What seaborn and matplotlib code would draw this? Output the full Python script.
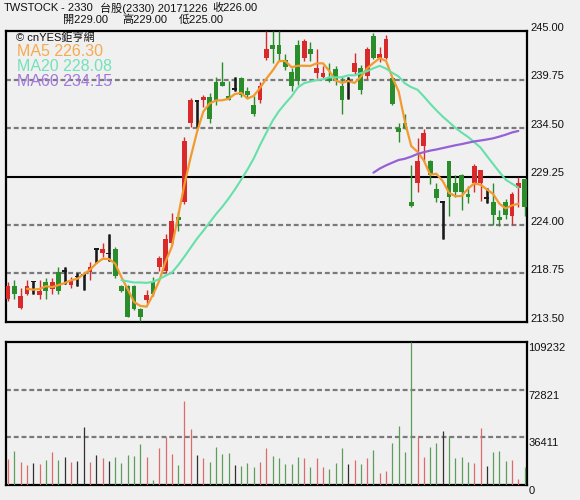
import numpy as np
import pandas as pd
import matplotlib
matplotlib.use("Agg")
import matplotlib.pyplot as plt
import matplotlib.transforms as mtransforms
import seaborn as sns

# daily OHLC + volume (83 trading days up to 2017-12-26)
opens = [216.0, 217.4, 215.0, 216.5, 217.9, 216.4, 217.8, 217.05, 218.9, 219.0,
         217.5, 218.4, 218.6, 218.9, 221.4, 221.0, 220.9, 221.4, 217.4, 217.4,
         217.4, 214.9, 215.9, 217.8, 219.5, 219.0, 222.0, 224.9, 226.5, 235.0,
         237.4, 237.5, 237.9, 239.5, 239.5, 238.0, 238.7, 239.9, 238.5, 237.0,
         237.5, 242.1, 243.5, 243.5, 241.9, 240.6, 243.5, 242.1, 243.0, 240.5,
         240.0, 240.0, 240.9, 239.0, 239.6, 240.6, 241.0, 240.1, 244.5, 242.1,
         242.1, 239.9, 234.5, 235.0, 226.5, 228.5, 232.5, 230.9, 227.9, 226.5,
         230.9, 228.5, 229.4, 227.4, 228.6, 228.5, 226.9, 226.5, 224.9, 226.5,
         225.0, 228.0, 229.0]
highs = [217.8, 218.0, 217.2, 218.0, 217.9, 218.0, 218.3, 218.3, 219.4, 219.4,
         218.4, 218.85, 218.7, 220.0, 221.4, 222.1, 223.0, 221.6, 217.5, 217.5,
         217.5, 215.0, 217.0, 218.4, 220.6, 223.0, 225.3, 225.4, 233.5, 237.7,
         237.4, 238.1, 238.3, 240.0, 241.6, 239.6, 240.0, 240.0, 238.9, 238.0,
         239.5, 245.0, 245.0, 245.0, 242.5, 241.0, 244.0, 244.1, 243.8, 243.0,
         241.2, 241.5, 241.2, 240.1, 240.0, 242.6, 241.3, 243.3, 244.8, 243.3,
         244.6, 240.0, 235.0, 236.0, 230.5, 233.4, 234.4, 231.0, 228.6, 226.5,
         230.9, 229.4, 229.5, 228.2, 230.6, 230.0, 228.0, 228.5, 225.6, 226.8,
         227.6, 229.2, 229.0]
lows = [215.8, 216.0, 214.9, 216.4, 216.5, 216.0, 216.0, 216.5, 216.5, 217.6,
        217.2, 217.4, 217.0, 218.0, 219.9, 220.5, 220.1, 218.3, 216.8, 214.0,
        214.8, 213.6, 215.4, 216.3, 219.0, 218.8, 221.8, 223.4, 226.3, 234.6,
        234.6, 236.8, 235.0, 237.0, 239.0, 237.5, 238.5, 237.9, 237.7, 235.8,
        237.2, 241.9, 241.5, 241.7, 240.8, 238.5, 239.2, 241.8, 241.8, 239.9,
        239.9, 239.5, 239.2, 236.0, 237.6, 240.2, 238.2, 239.8, 242.0, 241.6,
        242.0, 237.0, 233.0, 234.4, 226.0, 227.6, 230.9, 228.4, 226.5, 222.5,
        225.0, 227.0, 225.6, 226.4, 227.6, 226.6, 226.4, 224.0, 223.9, 224.6,
        224.0, 226.0, 225.0]
closes = [217.4, 216.5, 216.3, 217.4, 217.9, 216.9, 216.9, 217.8, 216.9, 219.0,
          218.0, 218.4, 218.6, 219.4, 221.4, 221.4, 220.9, 218.5, 216.9, 214.0,
          214.9, 214.0, 216.4, 216.5, 220.4, 222.5, 224.4, 224.5, 233.1, 237.5,
          237.4, 237.9, 235.5, 237.5, 239.1, 237.5, 238.7, 238.1, 238.1, 236.0,
          239.0, 243.0, 243.1, 242.5, 241.1, 239.1, 239.6, 243.9, 242.5, 241.0,
          240.5, 239.6, 239.7, 237.5, 239.6, 241.5, 238.6, 243.0, 242.1, 242.5,
          244.1, 237.1, 234.1, 234.5, 226.1, 230.9, 234.0, 229.4, 226.9, 226.5,
          227.0, 227.6, 227.6, 227.0, 230.4, 229.9, 226.9, 225.1, 224.5, 225.1,
          227.4, 228.5, 226.0]
volumes = [19600, 26200, 17800, 15200, 17000, 15700, 19100, 25400, 19100, 21300,
           17800, 18300, 44500, 17800, 23100, 20300, 18300, 21600, 16500, 22900,
           22400, 31200, 21600, 3800, 27900, 36300, 23600, 15200, 64300, 42400,
           22900, 20300, 17800, 28700, 23600, 24600, 15200, 14700, 16500, 13500,
           17800, 27900, 22100, 20300, 15700, 16000, 21100, 20300, 14000, 20300,
           14000, 11900, 17000, 28400, 16000, 19100, 16000, 20300, 26700, 8900,
           10900, 32300, 45000, 25400, 109232, 37300, 21600, 29200, 32300, 41200,
           37300, 20800, 21600, 17800, 17000, 43200, 14500, 25400, 26200, 18500,
           19100, 4300, 14000]

price_ticks = [245.00, 239.75, 234.50, 229.25, 224.00, 218.75, 213.50]
vol_ticks = [109232, 72821, 36411, 0]

BG = "#f0f0f0"
RED = "#d82a2a"
GREEN = "#2b8c2b"
BLACK = "#1a1a1a"
GRID = "#7a7a7a"

sns.set_style("white", rc={"axes.facecolor": BG, "figure.facecolor": BG,
                           "axes.edgecolor": "black"})
plt.rcParams["font.family"] = ["Liberation Sans", "Noto Sans CJK TC", "DejaVu Sans"]

df = pd.DataFrame({"day": np.arange(len(closes)), "open": opens, "high": highs,
                   "low": lows, "close": closes, "volume": volumes})
df["MA5"] = df["close"].rolling(5).mean()
df["MA20"] = df["close"].rolling(20).mean()
df["MA60"] = df["close"].rolling(60).mean()
# the source chart draws each average one slot to the left of its candle
df["ma_pos"] = df["day"] - 1

up = df["close"] > df["open"]
down = df["close"] < df["open"]
flat = ~(up | down)
colors = np.where(up, RED, np.where(down, GREEN, BLACK))
vol_colors = np.where(up, "#de6a6a", np.where(down, "#5a9e5a", "#303030"))

W, H = 580, 500
fig = plt.figure(figsize=(W / 100, H / 100), dpi=100)


def box(x0, y0, x1, y1):
    return [x0 / W, 1 - y1 / H, (x1 - x0) / W, (y1 - y0) / H]


ax = fig.add_axes(box(6, 31, 526.5, 322))
axv = fig.add_axes(box(6, 342, 526.5, 485))

dash = (0, (2.2, 1.3))

# ---- price panel ----
for t in price_ticks[1:-1]:
    if t == 229.25:
        ax.axhline(t, color="black", lw=1.5, zorder=2)
    else:
        ax.axhline(t, color=GRID, lw=1.6, ls=dash, zorder=1)

ax.vlines(df["day"], df["low"], df["high"], colors=colors, lw=1.0, zorder=3)
ax.vlines(df["day"][flat], df["low"][flat], df["high"][flat], colors=BLACK, lw=1.8, zorder=3)
body_bottom = np.where(flat, df["open"] - 0.08, np.minimum(df["open"], df["close"]))
body_h = np.where(flat, 0.16, (df["close"] - df["open"]).abs())
ax.bar(df["day"], body_h, bottom=body_bottom, width=0.76, color=colors, lw=0, zorder=4)

sns.lineplot(data=df, x="ma_pos", y="MA5", ax=ax, color="#f29a2e", lw=1.6, zorder=5)
sns.lineplot(data=df, x="ma_pos", y="MA20", ax=ax, color="#66e0aa", lw=1.5, zorder=5)
sns.lineplot(data=df, x="ma_pos", y="MA60", ax=ax, color="#9660d6", lw=1.6, zorder=5)

ax.set_xlim(-0.33, 82.3)
ax.set_ylim(213.5, 245.0)
ax.set_xticks([])
ax.set_yticks([])
ax.set_xlabel("")
ax.set_ylabel("")

lab_off = mtransforms.ScaledTranslation(0.035, 0.035, fig.dpi_scale_trans)
for t in price_ticks:
    ax.text(1.0, t, f"{t:.2f}", transform=ax.get_yaxis_transform() + lab_off,
            ha="left", va="center", fontsize=8, color="#111111", clip_on=False)

# ---- volume panel ----
for t in vol_ticks[1:3]:
    axv.axhline(t, color=GRID, lw=1.6, ls=dash, zorder=1)
axv.vlines(df["day"], 0, df["volume"], colors=vol_colors, lw=0.9, zorder=3)
axv.set_xlim(-0.33, 82.3)
axv.set_ylim(0, 109232)
axv.set_xticks([])
axv.set_yticks([])

vol_off = mtransforms.ScaledTranslation(0.02, -0.06, fig.dpi_scale_trans)
for t in vol_ticks:
    axv.text(1.0, t, f"{t}", transform=axv.get_yaxis_transform() + vol_off,
             ha="left", va="center", fontsize=8, color="#111111", clip_on=False)

for a in (ax, axv):
    for s in a.spines.values():
        s.set_color("black")
        s.set_linewidth(1.6)

# ---- header and legend text ----
def px(x, y):
    return x / W, 1 - y / H


hdr = dict(fontsize=8, color="#111111", va="center", ha="left")
fig.text(*px(4, 8), "TWSTOCK", **hdr)
fig.text(*px(61, 8), "- 2330", **hdr)
fig.text(*px(100, 8), "台股(2330) 20171226", **hdr)
fig.text(*px(212, 8), "收226.00", **hdr)
fig.text(*px(63, 20), "開229.00", **hdr)
fig.text(*px(122, 20), "高229.00", **hdr)
fig.text(*px(179, 20), "低225.00", **hdr)

fig.text(*px(16, 37.5), "© cnYES鉅亨網", fontsize=8, color="#111111", va="center")
fig.text(*px(17, 51), "MA5 226.30", fontsize=11.5, color="#f5aa50", va="center")
fig.text(*px(17, 66.5), "MA20 228.08", fontsize=11.5, color="#72e2b8", va="center")
fig.text(*px(17, 82), "MA60 234.15", fontsize=11.5, color="#a27ade", va="center")

fig.savefig("out.png", dpi=100)
